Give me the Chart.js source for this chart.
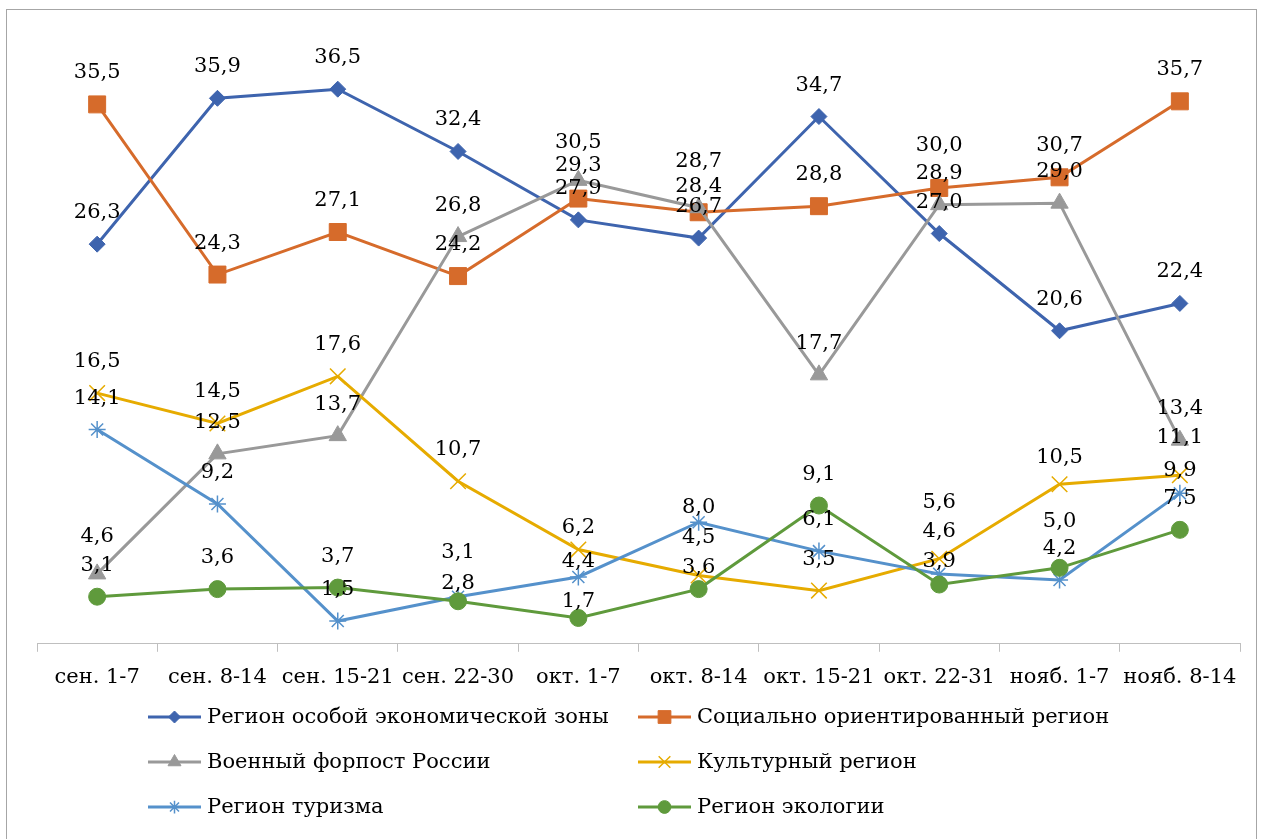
<!DOCTYPE html>
<html>
<head>
<meta charset="utf-8">
<script src="https://cdn.jsdelivr.net/npm/chart.js@4.4.0/dist/chart.umd.min.js"></script>
<style>
  html, body { margin: 0; padding: 0; background: #fff; }
  #wrap { position: relative; width: 1266px; height: 839px; overflow: hidden; }
  #frame { position: absolute; left: 6px; top: 9px; width: 1251px; height: 850px; border: 1px solid #a6a6a6; box-sizing: border-box; }
  canvas { position: absolute; left: 0; top: 0; }
</style>
</head>
<body>
<div id="wrap">
  <div id="frame"></div>
  <canvas id="c" width="1266" height="839"></canvas>
</div>
<script>
const categories = ["сен. 1-7", "сен. 8-14", "сен. 15-21", "сен. 22-30", "окт. 1-7", "окт. 8-14", "окт. 15-21", "окт. 22-31", "нояб. 1-7", "нояб. 8-14"];

const seriesNames = ["Регион особой экономической зоны", "Социально ориентированный регион", "Военный форпост России", "Культурный регион", "Регион туризма", "Регион экологии"];

const economicZone = [26.3, 35.9, 36.5, 32.4, 27.9, 26.7, 34.7, 27.0, 20.6, 22.4];
const socialRegion = [35.5, 24.3, 27.1, 24.2, 29.3, 28.4, 28.8, 30.0, 30.7, 35.7];
const militaryOutpost = [4.6, 12.5, 13.7, 26.8, 30.5, 28.7, 17.7, 28.9, 29.0, 13.4];
const culturalRegion = [16.5, 14.5, 17.6, 10.7, 6.2, 4.5, 3.5, 5.6, 10.5, 11.1];
const tourismRegion = [14.1, 9.2, 1.5, 3.1, 4.4, 8.0, 6.1, 4.6, 4.2, 9.9];
const ecologyRegion = [3.1, 3.6, 3.7, 2.8, 1.7, 3.6, 9.1, 3.9, 5.0, 7.5];

// extra upward nudges (px) of individual value labels, as moved by hand in the original
const labelNudges = [
  [0, 0, 0, 0, 0, 0, 0, 0, 0, 0],
  [0, 0, 0, 0, 2, -6, 0, 11, 0, 0],
  [6, 0, 0, 0, 6, 15, 0, 0, 0, 0],
  [0, 0, 0, 0, -9, 6, 0, 25, -5, 6],
  [0, 0, 0, 13, -16, -17, 0, 11, 0, -9],
  [0, 0, 0, -14, -15, -10, 0, -8, 15, 0]
];

const FONT = "'DejaVu Serif', 'Liberation Serif', serif";

const styles = [
  { color: '#3E64AE', pointStyle: 'rectRot', radius: 8, bw: 1 },
  { color: '#D66B2B', pointStyle: 'rect', radius: 12, bw: 1 },
  { color: '#999999', pointStyle: 'triangle', radius: 10, bw: 1 },
  { color: '#E6AB00', pointStyle: 'crossRot', radius: 11, bw: 1.5 },
  { color: '#5591CB', pointStyle: 'star', radius: 8.5, bw: 1.5 },
  { color: '#5F9A3C', pointStyle: 'circle', radius: 8.5, bw: 1 }
];

const allSeries = [economicZone, socialRegion, militaryOutpost, culturalRegion, tourismRegion, ecologyRegion];

const datasets = allSeries.map((data, i) => ({
  label: seriesNames[i],
  data: data,
  borderColor: styles[i].color,
  backgroundColor: styles[i].color,
  pointBackgroundColor: styles[i].color,
  pointBorderColor: styles[i].color,
  pointStyle: styles[i].pointStyle,
  pointRadius: styles[i].radius,
  pointBorderWidth: styles[i].bw,
  borderWidth: 3,
  tension: 0,
  fill: false,
  order: -i
}));

const fmt = v => v.toFixed(1).replace('.', ',');

const dataLabels = {
  id: 'dataLabels',
  afterDatasetsDraw(chart) {
    const ctx = chart.ctx;
    ctx.save();
    ctx.font = "21px " + FONT;
    ctx.fillStyle = '#000';
    ctx.textAlign = 'center';
    ctx.textBaseline = 'alphabetic';
    chart.data.datasets.forEach((ds, i) => {
      const meta = chart.getDatasetMeta(i);
      meta.data.forEach((pt, j) => {
        ctx.fillText(fmt(ds.data[j]), pt.x, pt.y - 26 - labelNudges[i][j]);
      });
    });
    ctx.restore();
  }
};

const customLegend = {
  id: 'customLegend',
  afterDraw(chart) {
    const ctx = chart.ctx;
    ctx.save();
    const colLineX = [148, 638];
    const rowY = [717, 762, 807];
    ctx.font = "21px " + FONT;
    ctx.textBaseline = 'middle';
    ctx.textAlign = 'left';
    chart.data.datasets.forEach((ds, i) => {
      const col = i % 2, row = Math.floor(i / 2);
      const x0 = colLineX[col], y = rowY[row];
      ctx.strokeStyle = ds.borderColor;
      ctx.lineWidth = 3;
      ctx.beginPath();
      ctx.moveTo(x0, y);
      ctx.lineTo(x0 + 53, y);
      ctx.stroke();
      ctx.fillStyle = ds.pointBackgroundColor;
      ctx.strokeStyle = ds.pointBorderColor;
      ctx.lineWidth = ds.pointBorderWidth;
      Chart.helpers.drawPoint(ctx, { pointStyle: ds.pointStyle, radius: ds.pointRadius * 0.75, borderWidth: ds.pointBorderWidth, rotation: 0 }, x0 + 26.5, y);
      ctx.fillStyle = '#000';
      ctx.fillText(ds.label, x0 + 59, y + 1);
    });
    ctx.restore();
  }
};

new Chart(document.getElementById('c'), {
  type: 'line',
  data: { labels: categories, datasets: datasets },
  options: {
    responsive: false,
    animation: false,
    devicePixelRatio: 1,
    layout: { padding: { left: 37, right: 26, top: 36, bottom: 136 } },
    plugins: { legend: { display: false }, tooltip: { enabled: false } },
    scales: {
      x: {
        offset: true,
        grid: { display: true, offset: true, drawOnChartArea: false, drawTicks: true, tickLength: 8, color: '#bfbfbf', lineWidth: 1 },
        border: { display: true, color: '#bfbfbf', width: 1 },
        ticks: { color: '#000', font: { family: FONT, size: 21 }, padding: 13, maxRotation: 0, autoSkip: false }
      },
      y: {
        display: false,
        min: 0,
        max: 40
      }
    }
  },
  plugins: [dataLabels, customLegend]
});
</script>
</body>
</html>
